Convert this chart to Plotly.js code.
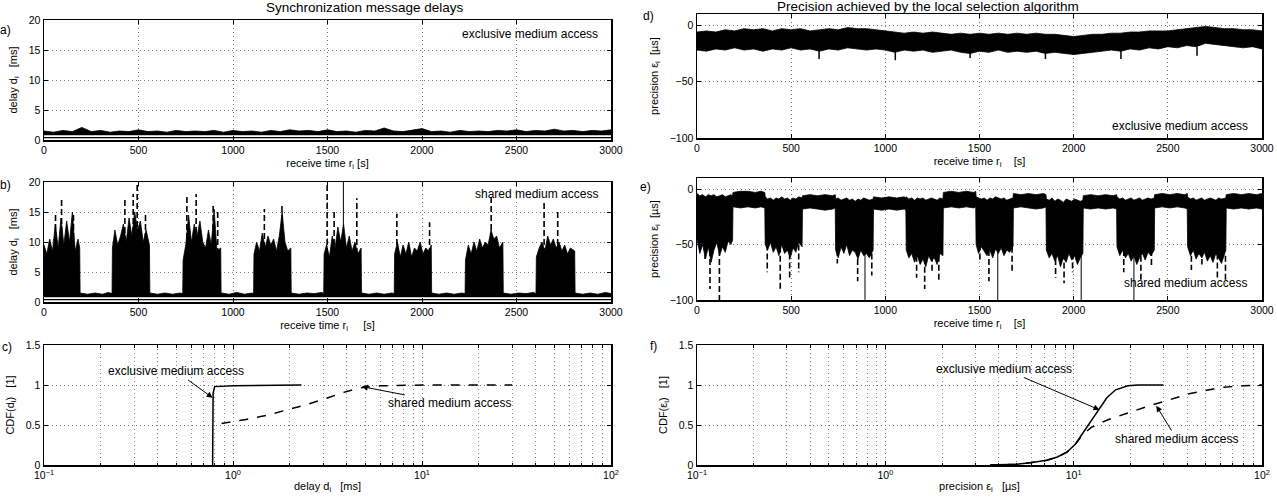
<!DOCTYPE html>
<html><head><meta charset="utf-8">
<script src="https://cdn.plot.ly/plotly-3.0.1.min.js"></script>
<style>html,body{margin:0;padding:0;background:#fff}#chart{width:1277px;height:497px}</style>
</head><body><div id="chart"></div>
<script>
// ---------- DATA ----------
// uniform sample times used for panels a) and d)
const receiveTimes = [0,50,100,150,200,250,300,350,400,450,500,550,600,650,700,750,800,850,900,950,1000,1050,1100,1150,1200,1250,1300,1350,1400,1450,1500,1550,1600,1650,1700,1750,1800,1850,1900,1950,2000,2050,2100,2150,2200,2250,2300,2350,2400,2450,2500,2550,2600,2650,2700,2750,2800,2850,2900,2950,3000];

// a) exclusive medium access: delay band [ms]
const exclDelayHigh = [1.5,1.3,1.6,1.4,2.1,1.4,1.6,1.3,1.5,1.4,1.7,1.4,1.5,1.3,1.6,1.4,1.5,1.4,1.6,1.3,1.6,1.4,1.5,1.3,1.6,1.4,1.7,1.5,1.6,1.4,1.7,1.4,1.5,1.3,1.6,1.5,2.0,1.5,1.4,1.6,1.9,1.4,1.5,1.3,1.6,1.4,1.5,1.4,1.6,1.5,1.7,1.4,1.6,1.5,1.8,1.5,1.6,1.4,1.6,1.5,1.7];
const bandEndsT = [0,3000];
const exclDelayLow = [0.85,0.85];
const delayFloor = [0.4,0.4];

// sample times used for panels b) and e) (bursts of shared medium traffic)
const blockTimes = [0,15,30,45,60,75,90,105,120,135,150,165,180,189,
 191,230,270,310,340,360,
 362,375,390,405,420,435,450,465,480,495,510,525,540,558,
 560,600,640,680,720,734,
 736,750,765,780,795,810,825,840,855,870,885,900,915,935,
 937,980,1020,1060,1100,1109,
 1111,1125,1140,1155,1170,1185,1200,1215,1230,1245,1260,1275,1290,1306,
 1308,1350,1390,1430,1470,1480,
 1482,1495,1510,1525,1540,1555,1570,1585,1600,1615,1630,1645,1660,1678,
 1680,1720,1760,1800,1840,1853,
 1855,1870,1885,1900,1915,1930,1945,1960,1975,1990,2005,2020,2035,2049,
 2051,2090,2130,2170,2210,2228,
 2230,2245,2260,2275,2290,2305,2320,2335,2350,2365,2380,2395,2410,2428,
 2430,2470,2510,2550,2590,2603,
 2605,2620,2635,2650,2665,2680,2695,2710,2725,2740,2755,2770,2785,2808,
 2810,2850,2890,2930,2970,3000];

// b) shared medium access: delay upper envelope [ms]
const sharedDelayHigh = [9.5,8,10.5,8.5,13,9,14,9.5,13.5,10,15,8.5,10.5,9,
 1.5,1.3,1.5,1.3,1.6,1.4,
 9,12,9.5,11,13,10,14,11,15,12,13.5,10,12,9.5,
 1.5,1.3,1.5,1.3,1.5,1.4,
 7,9.5,14.5,10,13,11,13.5,10,9,12,9.5,15.5,8.5,9,
 1.5,1.3,1.6,1.3,1.5,1.4,
 8,10,8.5,11.5,9,11,9.5,10.5,8.5,11,15,10,8.5,9,
 1.5,1.3,1.5,1.4,1.6,1.4,
 8,9.5,7.5,11,9,12.5,10,13,9,11,8.5,10,8,9,
 1.5,1.3,1.5,1.3,1.5,1.4,
 8,10,7.5,9.5,8,10,7.5,9,8.5,10,8,9,8.5,9.5,
 1.5,1.3,1.5,1.3,1.5,1.4,
 7,9.5,8,10,8.5,10.5,9,10,9.5,12,10.5,11,9,10,
 1.5,1.3,1.5,1.4,1.6,1.4,
 7.5,9,10,8.5,11,9.5,10.5,9,10,8.5,9.5,8,9,8.5,
 1.5,1.3,1.5,1.3,1.6,1.4];
const sharedDelayLow = [0.85,0.85];
const sharedSpikeT    = [61,93,156,428,472,493,537,756,805,895,919,1166,1259,1498,1535,1655,1867,2040,2366,2646,2718];
const sharedSpikeBase = [9,10,9,10,10,11,9,9,10,9,8,9,9,8,8,8,8,8,9,8,8];
const sharedSpikeTop  = [15,17.5,15,17.5,18,20.5,15,17.5,18,16.5,15.5,15.5,16,20.5,15,17.3,14.7,13.3,18,16.5,15.5];
const sharedSolidSpikeT = [1584];
const sharedSolidSpikeBase = [0.85];
const sharedSolidSpikeTop = [21];

// c) CDF of delays
const cdfDelayExclX = [0.78,0.785,0.8,1,2.3];
const cdfDelayExclY = [0,0.9,0.98,0.99,1];
const cdfDelaySharedX = [0.87,1.0,1.17,1.5,1.93,2.5,3.18,4,4.86,6,10,30];
const cdfDelaySharedY = [0.52,0.54,0.57,0.62,0.69,0.76,0.84,0.92,0.97,0.99,1,1];

// d) exclusive medium access: precision band [µs]
const exclPrecHigh = [-6,-5,-6,-4,-5,-3,-4,-3,-5,-3,-4,-3,-5,-4,-3,-4,-2,-3,-3,-4,-5,-6,-7,-6,-7,-6,-7,-8,-7,-8,-7,-8,-7,-8,-7,-8,-7,-8,-8,-9,-10,-9,-8,-8,-7,-7,-6,-6,-5,-5,-5,-4,-3,-2,-1,-2,-3,-3,-4,-4,-5];
const exclPrecLow = [-22,-23,-21,-22,-20,-22,-21,-23,-21,-22,-20,-22,-21,-23,-21,-22,-20,-21,-22,-21,-22,-24,-22,-23,-22,-24,-23,-22,-24,-25,-23,-24,-22,-24,-23,-24,-23,-25,-24,-25,-26,-25,-24,-23,-22,-23,-21,-22,-20,-21,-19,-20,-18,-19,-16,-17,-18,-19,-20,-19,-21];
const exclPrecSpikeT = [648,1053,1450,1850,2251,2655];
const exclPrecSpikeBase = [-22,-22,-24,-25,-22,-19];
const exclPrecSpikeTop = [-30,-31,-29,-30,-30,-27];

// e) shared medium access: precision band [µs]
const sharedPrecHigh = [-4,-6,-5,-7,-5,-6,-5,-7,-6,-5,-7,-6,-5,-6,
 -3,-2,-2,-3,-2,-3,
 -7,-9,-8,-10,-8,-9,-7,-9,-8,-10,-8,-9,-7,-8,
 -6,-5,-6,-5,-6,-5,
 -9,-8,-10,-9,-8,-10,-9,-11,-9,-10,-8,-9,-10,-9,
 -7,-8,-7,-8,-7,-8,
 -7,-9,-8,-10,-8,-9,-8,-10,-9,-8,-9,-10,-8,-9,
 -3,-2,-3,-2,-3,-2,
 -7,-8,-9,-8,-10,-8,-9,-7,-8,-9,-8,-10,-9,-8,
 -4,-5,-4,-5,-4,-5,
 -9,-10,-8,-11,-9,-10,-12,-9,-10,-11,-9,-10,-11,-10,
 -6,-5,-6,-5,-6,-5,
 -7,-9,-8,-10,-9,-8,-10,-9,-8,-10,-9,-8,-9,-8,
 -5,-4,-5,-4,-5,-4,
 -7,-9,-8,-10,-9,-8,-10,-9,-8,-9,-10,-8,-9,-8,
 -5,-4,-5,-4,-5,-4];
const sharedPrecLow = [-45,-58,-50,-63,-52,-66,-55,-48,-60,-52,-57,-47,-50,-46,
 -16,-17,-16,-17,-16,-17,
 -50,-55,-48,-57,-52,-60,-50,-58,-55,-62,-53,-57,-48,-52,
 -18,-17,-18,-19,-18,-17,
 -55,-62,-52,-58,-50,-60,-55,-57,-63,-55,-60,-58,-62,-55,
 -18,-19,-18,-19,-18,-19,
 -55,-62,-58,-66,-60,-68,-63,-70,-60,-65,-62,-68,-58,-60,
 -17,-16,-17,-16,-17,-16,
 -50,-58,-52,-56,-60,-55,-62,-54,-58,-53,-60,-55,-57,-52,
 -17,-16,-17,-18,-17,-16,
 -55,-62,-58,-65,-60,-70,-62,-66,-58,-64,-60,-68,-62,-58,
 -17,-18,-17,-18,-17,-18,
 -52,-60,-55,-62,-58,-65,-60,-68,-62,-58,-64,-57,-60,-55,
 -17,-16,-17,-16,-17,-18,
 -52,-60,-55,-63,-58,-62,-57,-65,-60,-66,-58,-62,-67,-55,
 -17,-18,-17,-18,-17,-18];
const sharedPrecSpikeT    = [43,69,119,373,442,492,540,745,853,928,1166,1209,1248,1284,1502,1550,1673,1904,1949,1994,2266,2357,2413,2625,2681,2763,2806];
const sharedPrecSpikeBase = [-50,-55,-55,-50,-52,-50,-50,-55,-55,-58,-60,-62,-60,-60,-50,-55,-52,-55,-58,-58,-55,-60,-55,-52,-55,-58,-60];
const sharedPrecSpikeTop  = [-63,-90,-100,-75,-92,-80,-75,-67,-83,-78,-80,-90,-75,-82,-65,-83,-75,-80,-85,-75,-75,-83,-70,-73,-68,-80,-85];
const sharedPrecSolidT    = [892,1597,2040,2320];
const sharedPrecSolidBase = [-55,-55,-60,-60];
const sharedPrecSolidTop  = [-101,-101,-101,-101];

// f) CDF of precision
const cdfPrecExclX = [3.6,5,6,7.2,8.2,9.2,10.2,11.2,12.4,13.7,15,16.7,18,19.4,22,30];
const cdfPrecExclY = [0,0.01,0.03,0.06,0.1,0.16,0.26,0.4,0.56,0.71,0.84,0.94,0.97,0.99,1,1];
const cdfPrecSharedX = [3.6,5,6,7.2,8.2,9.2,10.2,11.2,12.4,15,19.4,26,35,41,50,61,80,100];
const cdfPrecSharedY = [0,0.01,0.03,0.06,0.1,0.16,0.26,0.38,0.47,0.56,0.65,0.75,0.84,0.89,0.93,0.97,0.99,1];

// tick labels
const timeTicks = [0,500,1000,1500,2000,2500,3000];
const logTicks = [0.1,1,10,100];
const logTickText = ['10<sup>\u22121</sup>','10<sup>0</sup>','10<sup>1</sup>','10<sup>2</sup>'];
const logMinor = [0.2,0.3,0.4,0.5,0.6,0.7,0.8,0.9,2,3,4,5,6,7,8,9,20,30,40,50,60,70,80,90];

// ---------- HELPERS ----------
const FONT = 'Liberation Sans, Arial, sans-serif';
const NB = '\u00a0';
const GRIDDASH = '1px,3px';
function spikes(ts, bases, tops){
  const X=[],Y=[];
  ts.forEach((t,i)=>{X.push(t,t,null);Y.push(bases[i],tops[i],null);});
  return {X,Y};
}
function line(xa, ya, x, y, extra){
  return Object.assign({type:'scatter',mode:'lines',xaxis:xa,yaxis:ya,x,y,
    line:{color:'#000',width:1},hoverinfo:'skip',showlegend:false}, extra||{});
}
const traces = [];
// a)
traces.push(line('x','y',bandEndsT,delayFloor,{line:{color:'#000',width:1.2}}));
traces.push(line('x','y',bandEndsT,exclDelayLow,{line:{color:'#000',width:0.6}}));
traces.push(line('x','y',receiveTimes,exclDelayHigh,{fill:'tonexty',fillcolor:'#000',line:{color:'#000',width:0.8}}));
// b)
traces.push(line('x2','y2',bandEndsT,delayFloor,{line:{color:'#000',width:1.2}}));
traces.push(line('x2','y2',bandEndsT,sharedDelayLow,{line:{color:'#000',width:0.6}}));
traces.push(line('x2','y2',blockTimes,sharedDelayHigh,{fill:'tonexty',fillcolor:'#000',line:{color:'#000',width:0.8}}));
let s = spikes(sharedSpikeT,sharedSpikeBase,sharedSpikeTop);
traces.push(line('x2','y2',s.X,s.Y,{line:{color:'#000',width:1.6,dash:'6px,3px'}}));
s = spikes(sharedSolidSpikeT,sharedSolidSpikeBase,sharedSolidSpikeTop);
traces.push(line('x2','y2',s.X,s.Y,{line:{color:'#000',width:1}}));
// c)
traces.push(line('x3','y3',cdfDelayExclX,cdfDelayExclY,{line:{color:'#000',width:1.5}}));
traces.push(line('x3','y3',cdfDelaySharedX,cdfDelaySharedY,{line:{color:'#000',width:1.5,dash:'dash'}}));
// d)
traces.push(line('x4','y4',receiveTimes,exclPrecLow,{line:{color:'#000',width:0.8}}));
traces.push(line('x4','y4',receiveTimes,exclPrecHigh,{fill:'tonexty',fillcolor:'#000',line:{color:'#000',width:0.8}}));
s = spikes(exclPrecSpikeT,exclPrecSpikeBase,exclPrecSpikeTop);
traces.push(line('x4','y4',s.X,s.Y,{line:{color:'#000',width:1.5}}));
// e)
traces.push(line('x5','y5',blockTimes,sharedPrecLow,{line:{color:'#000',width:0.8}}));
traces.push(line('x5','y5',blockTimes,sharedPrecHigh,{fill:'tonexty',fillcolor:'#000',line:{color:'#000',width:0.8}}));
s = spikes(sharedPrecSpikeT,sharedPrecSpikeBase,sharedPrecSpikeTop);
traces.push(line('x5','y5',s.X,s.Y,{line:{color:'#000',width:1.6,dash:'6px,3px'}}));
s = spikes(sharedPrecSolidT,sharedPrecSolidBase,sharedPrecSolidTop);
traces.push(line('x5','y5',s.X,s.Y,{line:{color:'#000',width:1}}));
// f)
traces.push(line('x6','y6',cdfPrecExclX,cdfPrecExclY,{line:{color:'#000',width:1.5}}));
traces.push(line('x6','y6',cdfPrecSharedX,cdfPrecSharedY,{line:{color:'#000',width:1.5,dash:'dash'}}));

// ---------- AXES ----------
const common = {showline:true,linecolor:'#000',linewidth:1.5,mirror:'ticks',ticks:'inside',ticklen:4,
  tickcolor:'#000',tickwidth:1,showgrid:true,gridcolor:'#777',griddash:GRIDDASH,gridwidth:1,zeroline:false,
  tickfont:{family:FONT,size:10.5,color:'#000'},fixedrange:true,automargin:false};
const tfont = {family:FONT,size:11,color:'#000'};
function timeAx(domain, anchor, title){
  return Object.assign({},common,{domain,anchor,range:[0,3000],tickmode:'array',tickvals:timeTicks,
    title:{text:title,font:tfont,standoff:4}});
}
function logAx(domain, anchor, title){
  return Object.assign({},common,{domain,anchor,type:'log',range:[-1,2],tickmode:'array',tickvals:logTicks,ticktext:logTickText,
    minor:{tickmode:'array',tickvals:logMinor,ticks:'inside',ticklen:2.5,tickcolor:'#000',showgrid:true,gridcolor:'#888',griddash:GRIDDASH,gridwidth:1},
    title:{text:title,font:tfont,standoff:2}});
}
function valAx(domain, anchor, range, ticks, title){
  return Object.assign({},common,{domain,anchor,range,tickmode:'array',tickvals:ticks,
    title:{text:title,font:tfont,standoff:9}});
}
const W=1277,H=497;
const px = v=>v/W, py = v=>1-v/H;
const LX=[px(44),px(611)], RX=[px(697),px(1262)];

const layout = {
  width:W,height:H,margin:{l:0,r:0,t:0,b:0},paper_bgcolor:'#fff',plot_bgcolor:'#fff',showlegend:false,
  font:{family:FONT,color:'#000'},
  xaxis: timeAx(LX,'y','receive time r<sub>i</sub> [s]'),
  yaxis: valAx([py(140),py(20)],'x',[0,20],[0,5,10,15,20],'delay d<sub>i</sub>'+NB+NB+NB+'[ms]'),
  xaxis2: timeAx(LX,'y2','receive time r<sub>i</sub>'+NB+NB+NB+NB+NB+'[s]'),
  yaxis2: valAx([py(302),py(182)],'x2',[0,20],[0,5,10,15,20],'delay d<sub>i</sub>'+NB+NB+NB+'[ms]'),
  xaxis3: logAx(LX,'y3','delay d<sub>i</sub>'+NB+NB+NB+'[ms]'),
  yaxis3: valAx([py(465),py(345)],'x3',[0,1.5],[0,0.5,1,1.5],'CDF(d<sub>i</sub>)'+NB+NB+NB+'[1]'),
  xaxis4: timeAx(RX,'y4','receive time r<sub>i</sub>'+NB+NB+NB+NB+'[s]'),
  yaxis4: valAx([py(138),py(14)],'x4',[-100,10],[-100,-50,0],'precision \u03b5<sub>i</sub>'+NB+NB+'[\u00b5s]'),
  xaxis5: timeAx(RX,'y5','receive time r<sub>i</sub>'+NB+NB+NB+NB+'[s]'),
  yaxis5: valAx([py(300),py(178)],'x5',[-100,10],[-100,-50,0],'precision \u03b5<sub>i</sub>'+NB+NB+'[\u00b5s]'),
  xaxis6: logAx(RX,'y6','precision \u03b5<sub>i</sub>'+NB+NB+NB+'[\u00b5s]'),
  yaxis6: valAx([py(465),py(345)],'x6',[0,1.5],[0,0.5,1,1.5],'CDF(\u03b5<sub>i</sub>)'+NB+NB+NB+'[1]'),
  annotations: []
};
const AF = {family:FONT,size:12,color:'#000'};
function paperText(x,y,text,size,anchor){
  return {xref:'paper',yref:'paper',x:px(x),y:py(y),text,showarrow:false,xanchor:anchor||'center',yanchor:'middle',font:{family:FONT,size:size||12,color:'#000'}};
}
function dataText(xr,yr,x,y,text,anchor){
  return {xref:xr,yref:yr,x,y,text,showarrow:false,xanchor:anchor||'right',yanchor:'middle',font:AF};
}
function arrowText(xr,yr,hx,hy,tx,ty,text){
  return {xref:xr,yref:yr,x:hx,y:hy,axref:xr,ayref:yr,ax:tx,ay:ty,text,showarrow:true,arrowhead:2,arrowsize:1.2,arrowwidth:1,arrowcolor:'#000',font:AF};
}
layout.annotations.push(
  paperText(365,8,'Synchronization message delays',13.5),
  paperText(928,7,'Precision achieved by the local selection algorithm',13.5),
  paperText(13,30,'a)',12,'right'), paperText(13,185,'b)',12,'right'), paperText(14,347,'c)',12,'right'),
  paperText(656,16,'d)',12,'right'), paperText(653,187,'e)',12,'right'), paperText(659,346,'f)',12,'right'),
  dataText('x','y',2940,17.7,'exclusive medium access'),
  dataText('x2','y2',2940,18,'shared medium access'),
  dataText('x4','y4',2935,-89.5,'exclusive medium access'),
  dataText('x5','y5',2932,-85,'shared medium access'),
  arrowText('x3','y3',Math.log10(0.78),0.84,-0.30,1.17,'exclusive medium access'),
  arrowText('x3','y3',Math.log10(4.8),0.98,1.143,0.77,'shared medium access'),
  arrowText('x6','y6',1.137,0.69,0.63,1.2,'exclusive medium access'),
  arrowText('x6','y6',1.439,0.74,1.547,0.325,'shared medium access')
);
Plotly.newPlot('chart',traces,layout,{staticPlot:true,displayModeBar:false});
</script></body></html>
